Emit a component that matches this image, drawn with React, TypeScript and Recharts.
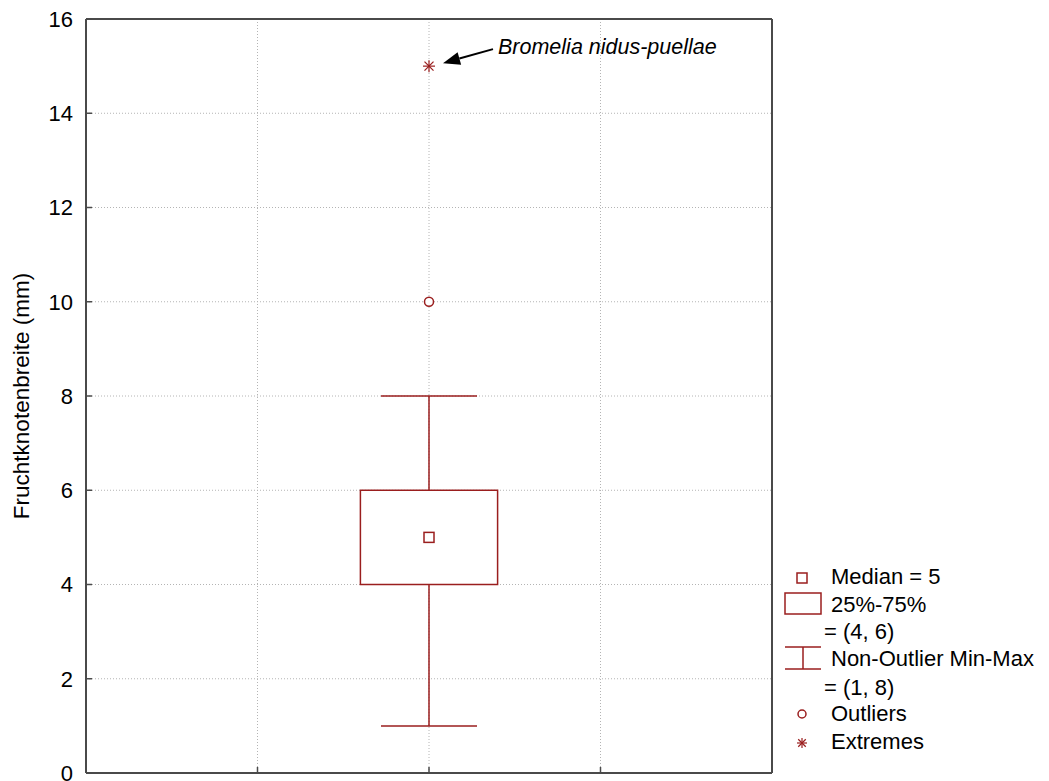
import {
  CartesianGrid,
  ComposedChart,
  ReferenceArea,
  ReferenceLine,
  Scatter,
  XAxis,
  YAxis
} from "recharts";

// box plot stats (one group)
const positions = [2];
const medians = [5];
const q1s = [4];
const q3s = [6];
const mins = [1];
const maxs = [8];
const outliers = [10];
const extremes = [15];
const extremeLabels = ["Bromelia nidus-puellae"];

const yTicks = [0, 2, 4, 6, 8, 10, 12, 14, 16];
const xTicks = [1, 2, 3];
const yLabel = "Fruchtknotenbreite (mm)";

const RED = "#9a1e1e";
const FRAME = "#4a4a4a";
const FONT = "'Liberation Sans', Arial, sans-serif";
const BOX_HALF = 0.4;
const CAP_HALF = 0.28;

const medianData = positions.map((x, i) => ({ x, y: medians[i] }));
const outlierData = positions.map((x, i) => ({ x, y: outliers[i] }));
const extremeData = positions.map((x, i) => ({ x, y: extremes[i], label: extremeLabels[i] }));

function MedianShape(props: any) {
  const { cx, cy } = props;
  return <rect x={cx - 5} y={cy - 5} width={10} height={10} fill="#fff" stroke={RED} strokeWidth={1.5} />;
}

function OutlierShape(props: any) {
  const { cx, cy } = props;
  return <circle cx={cx} cy={cy} r={4.5} fill="#fff" stroke={RED} strokeWidth={1.5} />;
}

function Asterisk({ cx, cy, r }: { cx: number; cy: number; r: number }) {
  const d = r * 0.75;
  return (
    <g stroke={RED} strokeWidth={1.2}>
      <line x1={cx - r} y1={cy} x2={cx + r} y2={cy} />
      <line x1={cx} y1={cy - r} x2={cx} y2={cy + r} />
      <line x1={cx - d} y1={cy - d} x2={cx + d} y2={cy + d} />
      <line x1={cx - d} y1={cy + d} x2={cx + d} y2={cy - d} />
    </g>
  );
}

function ExtremeShape(props: any) {
  const { cx, cy, payload } = props;
  const tip = { x: cx + 14, y: cy - 3 };
  const tail = { x: cx + 64, y: cy - 17 };
  const len = Math.hypot(tail.x - tip.x, tail.y - tip.y);
  const ux = (tail.x - tip.x) / len;
  const uy = (tail.y - tip.y) / len;
  const hl = 17;
  const hw = 6.5;
  const bx = tip.x + ux * hl;
  const by = tip.y + uy * hl;
  const head = `${tip.x},${tip.y} ${bx - uy * hw},${by + ux * hw} ${bx + uy * hw},${by - ux * hw}`;
  return (
    <g>
      <Asterisk cx={cx} cy={cy} r={6} />
      {payload.label && (
        <g>
          <line x1={bx} y1={by} x2={tail.x} y2={tail.y} stroke="#000" strokeWidth={2} />
          <polygon points={head} fill="#000" />
          <text x={cx + 69} y={cy - 12} fontSize={21.5} fontStyle="italic" fill="#000" fontFamily={FONT}>
            {payload.label}
          </text>
        </g>
      )}
    </g>
  );
}

const LeftTick = (props: any) => {
  const { x, y, payload } = props;
  return (
    <g>
      <line x1={x} y1={y} x2={x + 6} y2={y} stroke={FRAME} strokeWidth={1.5} />
      <text x={x - 13} y={y} dy="0.36em" textAnchor="end" fontSize={22} fill="#000" fontFamily={FONT}>
        {payload.value}
      </text>
    </g>
  );
};
const RightTick = (props: any) => (
  <line x1={props.x} y1={props.y} x2={props.x - 6} y2={props.y} stroke={FRAME} strokeWidth={1.5} />
);
const BottomTick = (props: any) => (
  <line x1={props.x} y1={props.y} x2={props.x} y2={props.y - 6} stroke={FRAME} strokeWidth={1.5} />
);
const TopTick = (props: any) => (
  <line x1={props.x} y1={props.y} x2={props.x} y2={props.y + 6} stroke={FRAME} strokeWidth={1.5} />
);

const YLabel = (props: any) => {
  const { viewBox } = props;
  const x = viewBox.x + 29;
  const y = viewBox.y + viewBox.height / 2;
  return (
    <text x={x} y={y} transform={`rotate(-90 ${x} ${y})`} textAnchor="middle" fontSize={22.5} fill="#000" fontFamily={FONT}>
      {yLabel}
    </text>
  );
};

function BoxLegend() {
  const i = 0;
  const ts = { fontSize: 22, fill: "#000", fontFamily: FONT } as const;
  return (
    <svg width={274} height={200} style={{ position: "absolute", left: 775, top: 560 }}>
      <rect x={22} y={13} width={10} height={10} fill="#fff" stroke={RED} strokeWidth={1.5} />
      <text x={56} y={24} {...ts}>{`Median = ${medians[i]}`}</text>
      <rect x={10} y={33} width={36} height={21} fill="#fff" stroke={RED} strokeWidth={1.5} />
      <text x={56} y={52} {...ts}>25%-75%</text>
      <text x={49} y={79} {...ts}>{`= (${q1s[i]}, ${q3s[i]})`}</text>
      <g stroke={RED} strokeWidth={1.5}>
        <line x1={10} y1={87} x2={46} y2={87} />
        <line x1={28} y1={87} x2={28} y2={109} />
        <line x1={10} y1={109} x2={46} y2={109} />
      </g>
      <text x={56} y={106} {...ts}>Non-Outlier Min-Max</text>
      <text x={49} y={135} {...ts}>{`= (${mins[i]}, ${maxs[i]})`}</text>
      <circle cx={27} cy={154} r={4} fill="#fff" stroke={RED} strokeWidth={1.5} />
      <text x={56} y={161} {...ts}>Outliers</text>
      <Asterisk cx={27} cy={183} r={5} />
      <text x={56} y={189} {...ts}>Extremes</text>
    </svg>
  );
}

export default function App() {
  return (
    <div style={{ position: "absolute", left: 0, top: 0, width: 1049, height: 781, background: "#fff", fontFamily: FONT }}>
      <ComposedChart width={1049} height={781} margin={{ top: 18, right: 276, bottom: 7, left: 0 }}>
        <CartesianGrid stroke="#b4b4b4" strokeDasharray="1 2" />
        <XAxis
          dataKey="x"
          type="number"
          domain={[0, 4]}
          ticks={xTicks}
          interval={0}
          height={1}
          tickSize={0}
          tickMargin={0}
          tick={BottomTick}
          axisLine={{ stroke: FRAME, strokeWidth: 2 }}
          tickLine={false}
        />
        <XAxis
          xAxisId="top"
          orientation="top"
          type="number"
          domain={[0, 4]}
          ticks={xTicks}
          interval={0}
          height={1}
          tickSize={0}
          tickMargin={0}
          tick={TopTick}
          axisLine={{ stroke: FRAME, strokeWidth: 2 }}
          tickLine={false}
        />
        <YAxis
          type="number"
          domain={[0, 16]}
          ticks={yTicks}
          interval={0}
          width={86}
          tickSize={0}
          tickMargin={0}
          tick={LeftTick}
          axisLine={{ stroke: FRAME, strokeWidth: 2 }}
          tickLine={false}
          label={<YLabel />}
        />
        <YAxis
          yAxisId="right"
          orientation="right"
          type="number"
          domain={[0, 16]}
          ticks={yTicks}
          interval={0}
          width={1}
          tickSize={0}
          tickMargin={0}
          tick={RightTick}
          axisLine={{ stroke: FRAME, strokeWidth: 2 }}
          tickLine={false}
        />
        {positions.map((p, i) => (
          <ReferenceLine
            key={`wu${i}`}
            segment={[{ x: p, y: q3s[i] }, { x: p, y: maxs[i] }]}
            stroke={RED}
            strokeWidth={1.5}
          />
        ))}
        {positions.map((p, i) => (
          <ReferenceLine
            key={`wl${i}`}
            segment={[{ x: p, y: mins[i] }, { x: p, y: q1s[i] }]}
            stroke={RED}
            strokeWidth={1.5}
          />
        ))}
        {positions.map((p, i) => (
          <ReferenceLine
            key={`cu${i}`}
            segment={[{ x: p - CAP_HALF, y: maxs[i] }, { x: p + CAP_HALF, y: maxs[i] }]}
            stroke={RED}
            strokeWidth={1.5}
          />
        ))}
        {positions.map((p, i) => (
          <ReferenceLine
            key={`cl${i}`}
            segment={[{ x: p - CAP_HALF, y: mins[i] }, { x: p + CAP_HALF, y: mins[i] }]}
            stroke={RED}
            strokeWidth={1.5}
          />
        ))}
        {positions.map((p, i) => (
          <ReferenceArea
            key={`box${i}`}
            x1={p - BOX_HALF}
            x2={p + BOX_HALF}
            y1={q1s[i]}
            y2={q3s[i]}
            fill="#fff"
            fillOpacity={1}
            stroke={RED}
            strokeWidth={1.5}
          />
        ))}
        <Scatter data={medianData} dataKey="y" shape={MedianShape} isAnimationActive={false} />
        <Scatter data={outlierData} dataKey="y" shape={OutlierShape} isAnimationActive={false} />
        <Scatter data={extremeData} dataKey="y" shape={ExtremeShape} isAnimationActive={false} />
      </ComposedChart>
      <BoxLegend />
    </div>
  );
}
